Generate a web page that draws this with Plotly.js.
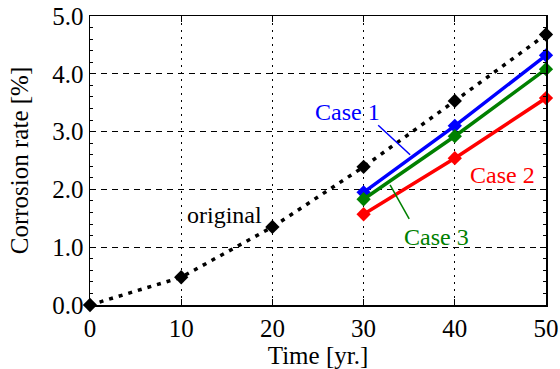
<!DOCTYPE html>
<html>
<head>
<meta charset="utf-8">
<script src="https://cdn.plot.ly/plotly-3.0.1.min.js"></script>
<style>body{margin:0;padding:0;background:#fff}#chart{width:560px;height:369px}</style>
</head>
<body>
<div id="chart"></div>
<script>
const years = [0, 10, 20, 30, 40, 50];
const original = [0.0, 0.48, 1.35, 2.39, 3.53, 4.68];
const caseYears = [30, 40, 50];
const case1 = [1.95, 3.10, 4.32];
const case2 = [1.57, 2.54, 3.58];
const case3 = [1.83, 2.92, 4.08];
const xTicks = [0, 10, 20, 30, 40, 50];
const yTicks = [0, 1, 2, 3, 4, 5];
const yTickText = ["0.0", "1.0", "2.0", "3.0", "4.0", "5.0"];

const F = "Liberation Serif";
const mk = (c) => ({symbol: "diamond", size: 11, color: c});

const traces = [
  {x: years, y: original, mode: "lines+markers", line: {color: "black", width: 3.5, dash: "4px,6px"}, marker: mk("black"), cliponaxis: false},
  {x: caseYears, y: case1, mode: "lines+markers", line: {color: "#0000ff", width: 3.5}, marker: mk("#0000ff"), cliponaxis: false},
  {x: caseYears, y: case3, mode: "lines+markers", line: {color: "#008000", width: 3.5}, marker: mk("#008000"), cliponaxis: false},
  {x: caseYears, y: case2, mode: "lines+markers", line: {color: "#ff0000", width: 3.5}, marker: mk("#ff0000"), cliponaxis: false}
];

const layout = {
  width: 560, height: 369,
  margin: {l: 90, r: 14, t: 16, b: 64},
  showlegend: false,
  paper_bgcolor: "white", plot_bgcolor: "white",
  font: {family: F, size: 24, color: "black"},
  xaxis: {
    range: [0, 50], tickvals: xTicks, ticktext: xTicks.map(String),
    showline: true, mirror: "ticks", linecolor: "black", linewidth: 1.5,
    ticks: "inside", ticklen: 6, tickcolor: "black",
    showgrid: true, gridcolor: "black", gridwidth: 1, griddash: "2px,5px",
    zeroline: false,
    tickfont: {family: F, size: 25},
    title: {text: "Time [yr.]", font: {family: F, size: 25}, standoff: 0}
  },
  yaxis: {
    range: [0, 5], tickvals: yTicks, ticktext: yTickText,
    showline: true, mirror: "ticks", linecolor: "black", linewidth: 1.5,
    ticks: "inside", ticklen: 6, tickcolor: "black",
    minor: {dtick: 0.2, ticks: "inside", ticklen: 3, tickcolor: "black", showgrid: false},
    showgrid: true, gridcolor: "black", gridwidth: 1, griddash: "6px,5px",
    zeroline: false,
    tickfont: {family: F, size: 25},
    title: {text: "Corrosion rate [%]", font: {family: F, size: 25}, standoff: 16}
  },
  annotations: [
    {text: "Case 1", font: {family: F, size: 24, color: "#0000ff"}, x: 28.2, y: 3.34, xref: "x", yref: "y", showarrow: false},
    {text: "Case 2", font: {family: F, size: 24, color: "#ff0000"}, x: 45.2, y: 2.25, xref: "x", yref: "y", showarrow: false},
    {text: "Case 3", font: {family: F, size: 24, color: "#008000"}, x: 38.0, y: 1.18, xref: "x", yref: "y", showarrow: false},
    {text: "original", font: {family: F, size: 24, color: "black"}, x: 14.7, y: 1.56, xref: "x", yref: "y", showarrow: false}
  ],
  shapes: [
    {type: "line", xref: "x", yref: "y", x0: 32.9, y0: 2.08, x1: 35.0, y1: 1.49, line: {color: "#008000", width: 1.5}},
    {type: "line", xref: "x", yref: "y", x0: 31.6, y0: 3.11, x1: 35.1, y1: 2.60, line: {color: "#0000ff", width: 1.5}}
  ]
};
Plotly.newPlot("chart", traces, layout, {displayModeBar: false, staticPlot: true});
</script>
</body>
</html>
